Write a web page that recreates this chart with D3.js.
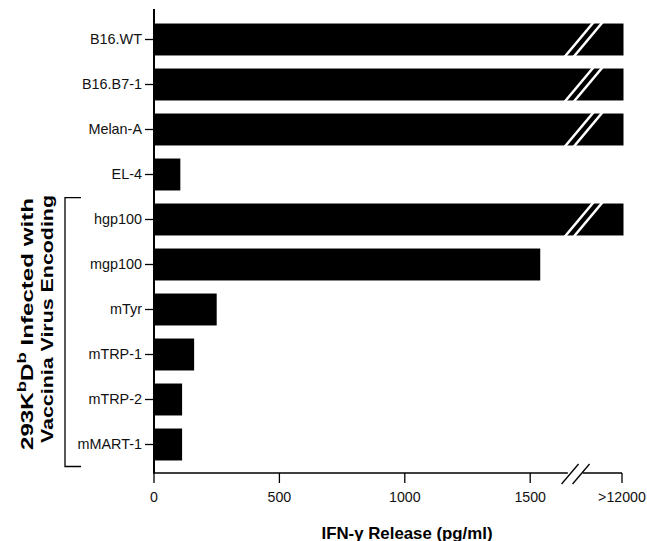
<!DOCTYPE html>
<html>
<head>
<meta charset="utf-8">
<script src="https://cdn.jsdelivr.net/npm/d3@7"></script>
<style>
  body { margin: 0; background: #fff; }
  text { font-family: "Liberation Sans", Arial, Helvetica, sans-serif; }
</style>
</head>
<body>
<div id="chart"></div>
<script>
// IFN-gamma release per target (pg/ml)
const categories = ['B16.WT', 'B16.B7-1', 'Melan-A', 'EL-4', 'hgp100', 'mgp100', 'mTyr', 'mTRP-1', 'mTRP-2', 'mMART-1'];
const release = [12000, 12000, 12000, 105, 12000, 1540, 250, 160, 112, 112];
const tickValues = [0, 500, 1000, 1500];
const capLabel = '>12000';
const capValue = 1866;   // where the ">12000" tick sits on the broken axis
const bracketed = ['hgp100', 'mMART-1'];

const width = 647, height = 541;
const svg = d3.select('#chart').append('svg')
    .attr('width', width)
    .attr('height', height);

const x = d3.scaleLinear().domain([0, 1870]).range([154, 623]);
const y = d3.scaleBand().domain(categories).range([17, 467])
    .paddingInner(0.29).paddingOuter(0.145);
const axisY = 473;

// anything off the scale gets drawn up to the break
const shown = v => v > 1800 ? 1872 : v;

// bars
svg.selectAll('.bar')
    .data(categories.map((c, i) => ({ c, v: release[i] })))
    .enter().append('rect')
    .attr('class', 'bar')
    .attr('x', x(0))
    .attr('y', d => y(d.c))
    .attr('width', d => x(shown(d.v)) - x(0))
    .attr('height', y.bandwidth())
    .attr('fill', '#000');

// break slashes on the capped bars
const broken = categories.filter((c, i) => release[i] > 1800);
broken.forEach(c => {
    const top = y(c) - 6, bot = y(c) + y.bandwidth() + 5;
    [0, 9].forEach(off => {
        svg.append('line')
            .attr('x1', x(1625) + off).attr('y1', bot)
            .attr('x2', x(1625) + off + 36).attr('y2', top)
            .attr('stroke', '#fff')
            .attr('stroke-width', 2.6);
    });
});

// y axis
const yAxis = svg.append('g')
    .attr('transform', `translate(${x(0)},0)`)
    .call(d3.axisLeft(y).tickSize(9).tickSizeOuter(0));
yAxis.select('.domain').remove();
yAxis.selectAll('.tick line').attr('stroke', '#000').attr('stroke-width', 1.3);
yAxis.selectAll('.tick text')
    .attr('x', -12)
    .style('font-size', '14.4px')
    .style('fill', '#111');
svg.append('line')
    .attr('x1', x(0)).attr('x2', x(0))
    .attr('y1', 9).attr('y2', axisY)
    .attr('stroke', '#000').attr('stroke-width', 2);

// x axis (drawn in two pieces around the break)
svg.append('line')
    .attr('x1', x(0) - 1).attr('x2', x(1650))
    .attr('y1', axisY).attr('y2', axisY)
    .attr('stroke', '#000').attr('stroke-width', 1.3);
svg.append('line')
    .attr('x1', x(1710)).attr('x2', x(capValue))
    .attr('y1', axisY).attr('y2', axisY)
    .attr('stroke', '#000').attr('stroke-width', 1.3);
[0, 11].forEach(off => {
    svg.append('line')
        .attr('x1', x(1625) + off).attr('y1', axisY + 11)
        .attr('x2', x(1625) + off + 17).attr('y2', axisY - 9)
        .attr('stroke', '#000').attr('stroke-width', 1.3);
});

const ticks = tickValues.map(v => ({ v, label: String(v) }))
    .concat([{ v: capValue, label: capLabel }]);
const xt = svg.selectAll('.xtick').data(ticks).enter().append('g')
    .attr('class', 'xtick')
    .attr('transform', d => `translate(${x(d.v)},${axisY})`);
xt.append('line')
    .attr('y1', 0).attr('y2', 10)
    .attr('stroke', '#000').attr('stroke-width', 1.3);
xt.append('text')
    .attr('y', 29)
    .attr('text-anchor', 'middle')
    .style('font-size', '14.2px')
    .style('fill', '#111')
    .text(d => d.label);

// x title
svg.append('text')
    .attr('x', 407).attr('y', 539)
    .attr('text-anchor', 'middle')
    .attr('textLength', 171)
    .attr('lengthAdjust', 'spacingAndGlyphs')
    .style('font-size', '16.5px')
    .style('font-weight', 'bold')
    .text('IFN-\u03b3 Release (pg/ml)');

// bracket around the vaccinia-infected targets
const bTop = y(bracketed[0]) - 6, bBot = y(bracketed[1]) + y.bandwidth() + 6;
svg.append('path')
    .attr('d', `M81,${bTop}H65V${bBot}H81`)
    .attr('fill', 'none')
    .attr('stroke', '#000').attr('stroke-width', 1.3);

// rotated y title, two lines
const yl = svg.append('text')
    .attr('transform', 'translate(33,324) rotate(-90)')
    .attr('text-anchor', 'middle')
    .attr('textLength', 252)
    .attr('lengthAdjust', 'spacingAndGlyphs')
    .style('font-size', '17px')
    .style('font-weight', 'bold');
yl.append('tspan').text('293K');
yl.append('tspan').attr('dy', -7).style('font-size', '13px').text('b');
yl.append('tspan').attr('dy', 7).text('D');
yl.append('tspan').attr('dy', -7).style('font-size', '13px').text('b');
yl.append('tspan').attr('dy', 7).text(' Infected with');
svg.append('text')
    .attr('transform', 'translate(53,319) rotate(-90)')
    .attr('text-anchor', 'middle')
    .attr('textLength', 248)
    .attr('lengthAdjust', 'spacingAndGlyphs')
    .style('font-size', '17px')
    .style('font-weight', 'bold')
    .text('Vaccinia Virus Encoding');
</script>
</body>
</html>
